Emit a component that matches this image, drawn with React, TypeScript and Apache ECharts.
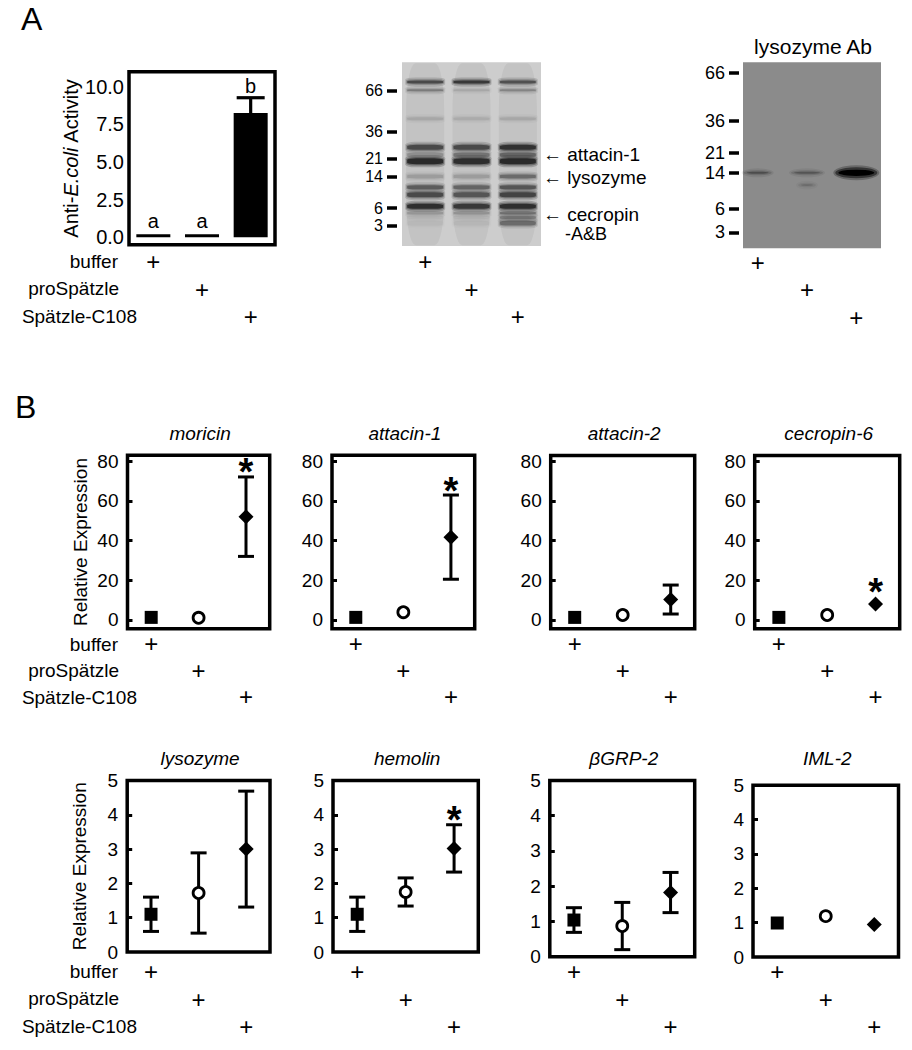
import React, { useEffect, useRef } from 'react';
import * as echarts from 'echarts';

const FONT = '"Liberation Sans", Arial, Helvetica, sans-serif';

// ---------- data ----------
const groups = ['buffer', 'proSpätzle', 'Spätzle-C108'];

// Panel A: anti-E. coli activity
const activityMean = [0.2, 0.2, 8.25];
const activityErr = [0, 0, 1.02];
const activityLetters = ['a', 'a', 'b'];
const activityTicks = [0, 2.5, 5, 7.5, 10];

// Gels: marker sizes (kDa) and their migration (% of gel length)
const markerKDa = ['66', '36', '21', '14', '6', '3'];
const gel1MarkerPos = [15.6, 37.8, 52.3, 62.3, 79.4, 89.0];
const gel2MarkerPos = [5.5, 31.5, 48.5, 59.6, 78.9, 91.4];

// Gel 1 (protein stain): band migration and intensity per lane
const gel1BandPos = [10.7, 15.2, 30.7, 46.3, 50.3, 53.9, 62.1, 68.0, 72.1, 78.4, 82.0, 84.5, 87.5];
const gel1Lane1 = [0.7, 0.35, 0.12, 0.7, 0.25, 1.0, 0.18, 0.55, 0.7, 0.95, 0.2, 0.05, 0.04];
const gel1Lane2 = [0.85, 0.12, 0.1, 0.7, 0.4, 0.95, 0.18, 0.5, 0.6, 0.85, 0.22, 0.06, 0.05];
const gel1Lane3 = [0.65, 0.3, 0.12, 0.92, 0.5, 1.0, 0.45, 0.6, 0.75, 0.95, 0.4, 0.35, 0.45];

// Gel 2 (lysozyme antibody): bands
const gel2BandLane = [0, 1, 1, 2];
const gel2BandPos = [59.4, 59.4, 66.0, 59.4];
const gel2BandIntensity = [0.3, 0.25, 0.14, 1.0];

// Panel B: relative expression (mean, SEM, significance)
const topGenes = ['moricin', 'attacin-1', 'attacin-2', 'cecropin-6'];
const moricinMean = [1.3, 1.1, 52.0];
const moricinErr = [0, 0, 20.0];
const moricinSig = [0, 0, 1];
const attacin1Mean = [1.3, 3.9, 41.7];
const attacin1Err = [0, 0, 21.2];
const attacin1Sig = [0, 0, 1];
const attacin2Mean = [1.3, 2.5, 10.3];
const attacin2Err = [0, 0, 7.3];
const attacin2Sig = [0, 0, 0];
const cecropin6Mean = [1.3, 2.5, 8.0];
const cecropin6Err = [0, 0, 0];
const cecropin6Sig = [0, 0, 1];
const topTicks = [0, 20, 40, 60, 80];

const bottomGenes = ['lysozyme', 'hemolin', 'βGRP-2', 'IML-2'];
const lysozymeMean = [1.1, 1.72, 3.0];
const lysozymeErr = [0.5, 1.17, 1.69];
const lysozymeSig = [0, 0, 0];
const hemolinMean = [1.1, 1.75, 3.02];
const hemolinErr = [0.5, 0.41, 0.69];
const hemolinSig = [0, 0, 1];
const bgrp2Mean = [1.04, 0.87, 1.82];
const bgrp2Err = [0.35, 0.67, 0.57];
const bgrp2Sig = [0, 0, 0];
const iml2Mean = [0.99, 1.19, 0.95];
const iml2Err = [0, 0, 0];
const iml2Sig = [0, 0, 0];
const bottomLabels = [0, 1, 2, 3, 4, 5];
const bottomTickMarks = [1, 2, 3, 4];

// ---------- layout / style ----------
const topSets = [
  [moricinMean, moricinErr, moricinSig],
  [attacin1Mean, attacin1Err, attacin1Sig],
  [attacin2Mean, attacin2Err, attacin2Sig],
  [cecropin6Mean, cecropin6Err, cecropin6Sig],
];
const bottomSets = [
  [lysozymeMean, lysozymeErr, lysozymeSig],
  [hemolinMean, hemolinErr, hemolinSig],
  [bgrp2Mean, bgrp2Err, bgrp2Sig],
  [iml2Mean, iml2Err, iml2Sig],
];
const topGrids = [
  { left: 127.5, top: 455.3, width: 142.2, height: 173.4 },
  { left: 332, top: 455.3, width: 142.7, height: 173.4 },
  { left: 550.7, top: 455.5, width: 144, height: 173.2 },
  { left: 754.7, top: 455.5, width: 145, height: 173.2 },
];
const bottomGrids = [
  { left: 127.2, top: 780.5, width: 142.8, height: 171.5 },
  { left: 333, top: 780.5, width: 145.3, height: 171.5 },
  { left: 549.8, top: 780.4, width: 144.9, height: 176.3 },
  { left: 753, top: 785.3, width: 145.5, height: 171.7 },
];
const bottomMargins = [6, 6, 1.3, 1];
const SYM = ['rect', 'circle', 'diamond'];
const SYM_SIZE = [13, 11, 15];
const SYM_STYLE = [
  { color: '#000', opacity: 1 },
  { color: '#fff', borderColor: '#000', borderWidth: 2.8, opacity: 1 },
  { color: '#000', opacity: 1 },
];
const gel1Thick = [3, 2, 3, 5, 4, 6, 4, 4, 5, 5, 3, 3, 5];
const gel2Size = [[26, 3], [30, 3], [16, 2.5], [40, 9]];

function txt(text: string, x: number, y: number, o: any = {}) {
  return {
    type: 'text',
    x,
    y,
    silent: true,
    z: 20,
    style: {
      text,
      fill: '#000',
      fontSize: o.size || 19,
      lineHeight: o.lh || undefined,
      fontFamily: FONT,
      fontStyle: o.italic ? 'italic' : 'normal',
      fontWeight: o.bold ? 'bold' : 'normal',
      align: o.align || 'left',
      verticalAlign: 'middle',
      textAlign: o.align || 'left',
      textVerticalAlign: 'middle',
    },
  };
}

function plusAxis(gridIndex: number, margin: number, lineHeight: number) {
  return {
    type: 'category',
    gridIndex,
    data: groups,
    boundaryGap: true,
    axisLine: { show: false },
    axisTick: { show: false },
    splitLine: { show: false },
    axisLabel: {
      interval: 0,
      margin,
      color: '#000',
      fontSize: 24,
      fontFamily: FONT,
      lineHeight,
      verticalAlign: 'top',
      formatter: (_v: string, i: number) => '\n'.repeat(i) + '+',
    },
  };
}

function errRender(capHalf: number) {
  return (params: any, api: any) => {
    const x = api.value(0);
    const m = api.value(1);
    const e = api.value(2);
    const sig = api.value(3);
    const c = api.coord([x, m]);
    const hi = api.coord([x, m + e]);
    const lo = api.coord([x, m - e]);
    const st = { stroke: '#000', lineWidth: 3 };
    const children: any[] = [];
    if (e > 0) {
      children.push({ type: 'line', shape: { x1: c[0], y1: hi[1], x2: c[0], y2: lo[1] }, style: st });
      children.push({ type: 'line', shape: { x1: c[0] - capHalf, y1: hi[1], x2: c[0] + capHalf, y2: hi[1] }, style: st });
      children.push({ type: 'line', shape: { x1: c[0] - capHalf, y1: lo[1], x2: c[0] + capHalf, y2: lo[1] }, style: st });
    }
    if (sig) {
      const anchor = Math.min(hi[1], c[1] - 8);
      children.push({
        type: 'text',
        style: {
          text: '*', x: c[0], y: anchor - 4.5, fill: '#000', fontSize: 38, fontWeight: 'bold', fontFamily: FONT,
          align: 'center', verticalAlign: 'middle', textAlign: 'center', textVerticalAlign: 'middle',
        },
      });
    }
    return { type: 'group', children };
  };
}

function buildOption() {
  const grid: any[] = [];
  const xAxis: any[] = [];
  const yAxis: any[] = [];
  const series: any[] = [];
  const frame = { show: true, borderColor: '#000', borderWidth: 3.5, backgroundColor: 'transparent' };

  // ---- Panel A bar chart (grid 0)
  grid.push({ left: 129, top: 71.7, width: 146, height: 173, ...frame });
  xAxis.push(plusAxis(0, 3.3, 27.5));
  yAxis.push({
    type: 'value', gridIndex: 0, min: -0.5, max: 11,
    name: 'Anti-{i|E.coli} Activity', nameLocation: 'middle', nameGap: 46,
    nameTextStyle: {
      color: '#000', fontSize: 20, fontFamily: FONT,
      rich: { i: { fontStyle: 'italic', fontSize: 20, fontFamily: FONT, color: '#000' } },
    },
    axisLine: { show: false }, splitLine: { show: false },
    axisTick: { show: false },
    axisLabel: {
      color: '#000', fontSize: 20, fontFamily: FONT, margin: 5, showMinLabel: true, showMaxLabel: true,
      customValues: activityTicks, formatter: (v: number) => v.toFixed(1),
    },
  });
  series.push({
    type: 'bar', xAxisIndex: 0, yAxisIndex: 0, data: activityMean, barWidth: 34,
    itemStyle: { color: '#000', borderColor: '#000', borderWidth: 3, opacity: 1 }, silent: true,
  });
  series.push({
    type: 'custom', xAxisIndex: 0, yAxisIndex: 0, z: 3, silent: true,
    data: activityMean.map((m, i) => [i, m, activityErr[i]]),
    renderItem: (params: any, api: any) => {
      const x = api.value(0), m = api.value(1), e = api.value(2);
      const c = api.coord([x, m]);
      const hi = api.coord([x, m + e]);
      const st = { stroke: '#000', lineWidth: 3.2 };
      const children: any[] = [];
      if (e > 0) {
        children.push({ type: 'line', shape: { x1: c[0], y1: hi[1], x2: c[0], y2: c[1] }, style: st });
        children.push({ type: 'line', shape: { x1: c[0] - 14, y1: hi[1], x2: c[0] + 14, y2: hi[1] }, style: st });
      }
      const anchor = Math.min(hi[1], c[1] - 1.5);
      children.push({
        type: 'text',
        style: {
          text: activityLetters[params.dataIndex], x: c[0], y: anchor - 12, fill: '#000', fontSize: 20,
          fontFamily: FONT, align: 'center', verticalAlign: 'middle', textAlign: 'center', textVerticalAlign: 'middle',
        },
      });
      return { type: 'group', children };
    },
  });

  // ---- Gel axes: marker ladder split over two axes so neighbouring labels are never dropped
  const gelY = (gi: number, pos: number[], idx: number[], offset: number, fs: number) => {
    const vals = idx.map((k) => pos[k]);
    return {
      type: 'value', gridIndex: gi, min: 0, max: 100, inverse: true, offset, position: 'left',
      axisLine: { show: false }, splitLine: { show: false },
      axisTick: { show: true, inside: false, length: 10, lineStyle: { width: 3.5, color: '#000' }, customValues: vals },
      axisLabel: {
        color: '#000', fontSize: fs, lineHeight: 15, fontFamily: FONT, margin: 14, customValues: vals,
        showMinLabel: true, showMaxLabel: true, hideOverlap: false,
        formatter: (v: number) => {
          const k = pos.findIndex((p) => Math.abs(p - v) < 1e-6);
          return k >= 0 ? markerKDa[k] : '';
        },
      },
    };
  };

  // ---- Gel 1 (grid 1)
  grid.push({ left: 402, top: 62.3, width: 139, height: 183.7, show: false });
  xAxis.push(plusAxis(1, 2, 27.5));
  yAxis.push(gelY(1, gel1MarkerPos, [0, 2, 4], 5, 16));
  const lanes = [gel1Lane1, gel1Lane2, gel1Lane3];
  const gel1Data: any[] = [];
  for (let L = 0; L < 3; L++) {
    gel1Data.push({ value: [L, 50], symbolSize: [38, 182], itemStyle: { opacity: 0.05 } });
    gel1BandPos.forEach((p, b) => {
      const a = lanes[L][b];
      gel1Data.push({ value: [L, p], symbolSize: [40, gel1Thick[b] + 6], itemStyle: { opacity: a * 0.22 } });
      gel1Data.push({ value: [L, p], symbolSize: [38, gel1Thick[b] + 2.5], itemStyle: { opacity: a * 0.35 } });
      gel1Data.push({ value: [L, p], symbolSize: [36, gel1Thick[b]], itemStyle: { opacity: a * 0.75 } });
    });
  }
  series.push({
    type: 'scatter', xAxisIndex: 1, yAxisIndex: 1, symbol: 'roundRect', silent: true, z: 2,
    itemStyle: { color: '#141414' },
    data: gel1Data,
  });

  // ---- Gel 2 (grid 2)
  grid.push({ left: 733, top: 62.3, width: 148, height: 186, show: false });
  xAxis.push(plusAxis(2, 0, 27.5));
  yAxis.push(gelY(2, gel2MarkerPos, [0, 2, 4], -6, 18));
  const gel2Data: any[] = [];
  gel2BandPos.forEach((p, b) => {
    const [w, h] = gel2Size[b];
    const a = gel2BandIntensity[b];
    gel2Data.push({ value: [gel2BandLane[b], p], symbolSize: [w + 6, h + 6], itemStyle: { opacity: a * 0.25 } });
    gel2Data.push({ value: [gel2BandLane[b], p], symbolSize: [w + 2, h + 2], itemStyle: { opacity: a * 0.5 } });
    gel2Data.push({ value: [gel2BandLane[b], p], symbolSize: [w - 4, h * 0.7], itemStyle: { opacity: a } });
  });
  series.push({
    type: 'scatter', xAxisIndex: 2, yAxisIndex: 2, symbol: 'circle', silent: true, z: 2,
    itemStyle: { color: '#000' },
    data: gel2Data,
  });

  // ---- Panel B charts
  const addExpr = (g: any, sets: any[], ymin: number, ymax: number, labels: number[], ticks: number[],
    margin: number, lh: number, yName: string | null, capHalf: number) => {
    const gi = grid.length;
    grid.push({ ...g, ...frame });
    xAxis.push(plusAxis(gi, margin, lh));
    yAxis.push({
      type: 'value', gridIndex: gi, min: ymin, max: ymax,
      name: yName || '', nameLocation: 'middle', nameGap: 38,
      nameTextStyle: { color: '#000', fontSize: 19, fontFamily: FONT },
      axisLine: { show: false }, splitLine: { show: false },
      axisTick: { show: true, inside: true, length: 5, lineStyle: { width: 3, color: '#000' }, customValues: ticks },
      axisLabel: {
        color: '#000', fontSize: 19, fontFamily: FONT, margin: 9, customValues: labels,
        showMinLabel: true, showMaxLabel: true,
      },
    });
    const [mean, err, sig] = sets;
    series.push({
      type: 'custom', xAxisIndex: gi, yAxisIndex: gi, z: 2, silent: true,
      data: mean.map((m: number, i: number) => [i, m, err[i], sig[i]]),
      renderItem: errRender(capHalf),
    });
    series.push({
      type: 'scatter', xAxisIndex: gi, yAxisIndex: gi, z: 3, silent: true,
      data: mean.map((m: number, i: number) => ({
        value: [i, m], symbol: SYM[i], symbolSize: SYM_SIZE[i], itemStyle: SYM_STYLE[i],
      })),
    });
  };
  topGrids.forEach((g, k) =>
    addExpr(g, topSets[k], -4.4, 82.9, topTicks, topTicks, 2, 26.5, k === 0 ? 'Relative Expression' : null, 8));
  bottomGrids.forEach((g, k) =>
    addExpr(g, bottomSets[k], 0, 5, bottomLabels, bottomTickMarks, bottomMargins[k], 27.5,
      k === 0 ? 'Relative Expression' : null, 8));

  // second ladder axes for the gels (odd markers), appended after the others
  yAxis.push(gelY(1, gel1MarkerPos, [1, 3, 5], 5, 16));
  yAxis.push(gelY(2, gel2MarkerPos, [1, 3, 5], -6, 18));

  // ---- graphic texts
  const graphic: any[] = [
    { type: 'rect', z: -1, silent: true, shape: { x: 402, y: 62.3, width: 139, height: 183.7 }, style: { fill: '#cdcdcd' } },
    { type: 'rect', z: -1, silent: true, shape: { x: 743, y: 62.3, width: 138, height: 186 }, style: { fill: '#8b8b8b' } },
    txt('A', 21, 18.5, { size: 32 }),
    txt('B', 15, 406.7, { size: 32 }),
    txt('← attacin-1', 543, 154),
    txt('← lysozyme', 543, 177.3),
    txt('← cecropin', 543, 214.5, { lh: 15 }),
    txt('-A&B', 565, 233.5, { lh: 15, size: 18 }),
    txt('lysozyme Ab', 813, 46.7, { size: 21, align: 'center' }),
  ];
  const rowLabels = (ys: number[]) => {
    graphic.push(txt(groups[0], 118, ys[0], { align: 'right' }));
    graphic.push(txt(groups[1], 119, ys[1], { align: 'right' }));
    graphic.push(txt(groups[2], 137, ys[2], { align: 'right' }));
  };
  rowLabels([261.7, 288.3, 316.7]);
  rowLabels([644, 670.5, 697]);
  rowLabels([971.7, 998.5, 1026.7]);
  topGenes.forEach((n, k) => {
    const g = topGrids[k];
    graphic.push(txt(n, g.left + g.width / 2 + 1.5, 433.6, { italic: true, align: 'center' }));
  });
  bottomGenes.forEach((n, k) => {
    const g = bottomGrids[k];
    graphic.push(txt(n, g.left + g.width / 2 + 1.5, 758.5, { italic: true, align: 'center' }));
  });

  return {
    animation: false,
    backgroundColor: '#fff',
    textStyle: { fontFamily: FONT },
    grid,
    xAxis,
    yAxis,
    series,
    graphic: { elements: graphic },
  };
}

export default function App() {
  const ref = useRef<HTMLDivElement>(null);
  useEffect(() => {
    if (!ref.current) return;
    const chart = echarts.init(ref.current, undefined, { renderer: 'svg' });
    chart.setOption(buildOption() as any);
    return () => chart.dispose();
  }, []);
  return (
    <div
      ref={ref}
      style={{ position: 'absolute', left: 0, top: 0, width: 912, height: 1050, background: '#fff' }}
    />
  );
}
